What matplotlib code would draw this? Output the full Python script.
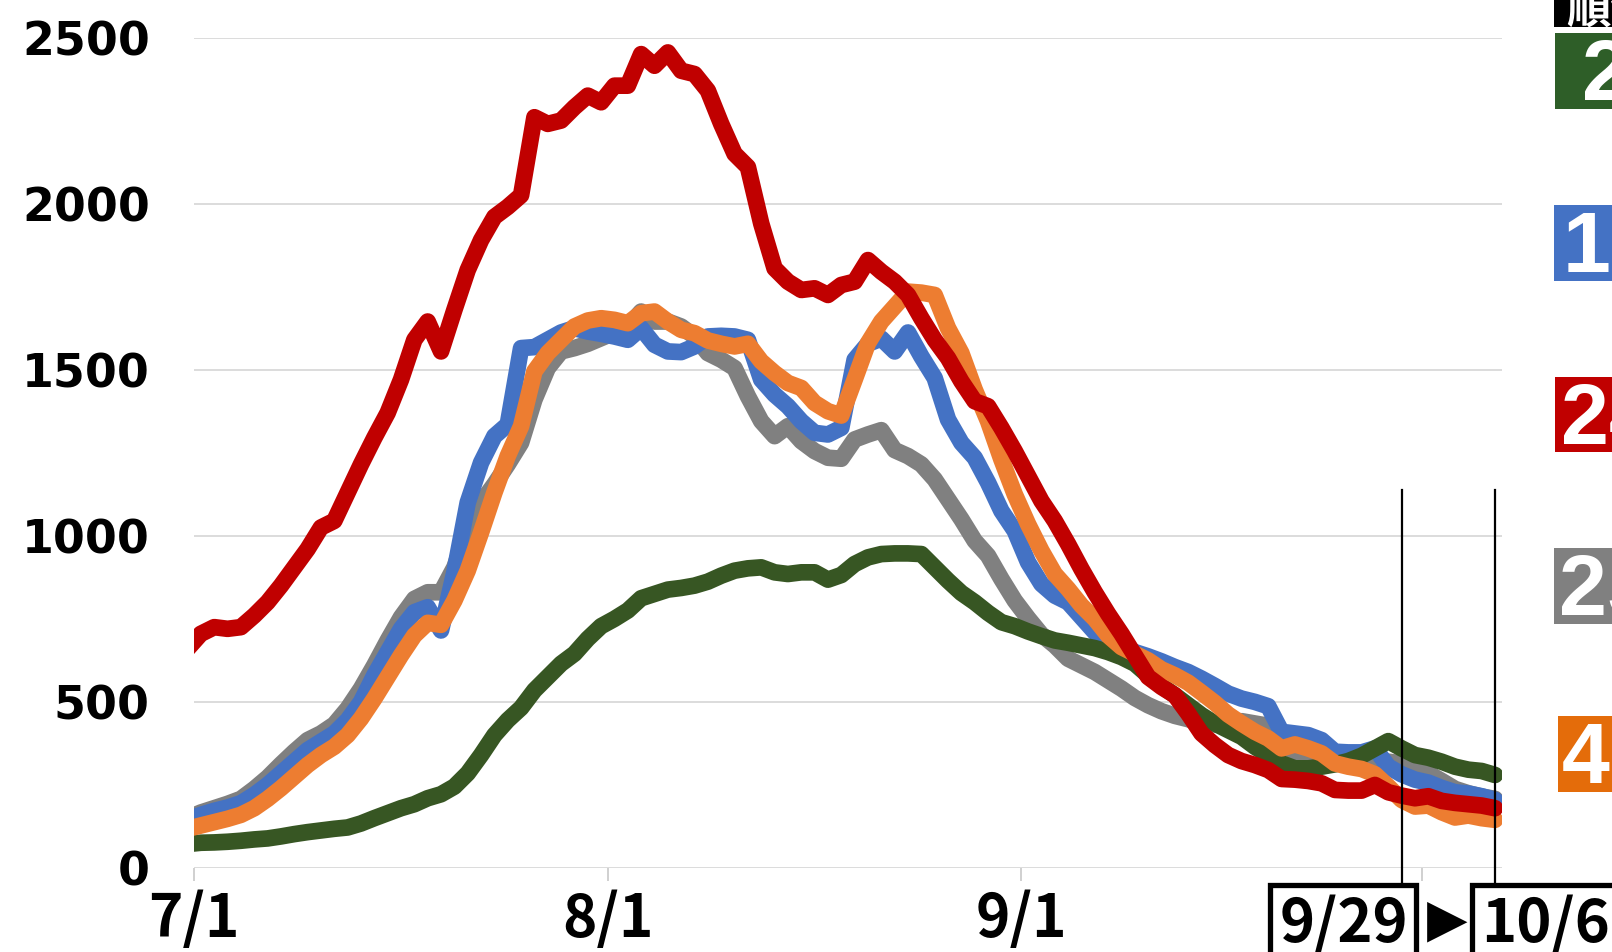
import numpy as np
import pandas as pd
import matplotlib
matplotlib.use("Agg")
import matplotlib.pyplot as plt
from matplotlib.patches import Rectangle

plt.rcParams['font.family'] = ['Noto Sans CJK JP', 'DejaVu Sans']

# daily values 6/30 .. 10/6 (6/30 is only the clipped start of each line)
dates = pd.date_range("2021-06-30", "2021-10-06")

red = [660, 705, 725, 720, 725, 760, 800, 850, 905, 960,
       1025, 1045, 1130, 1215, 1295, 1370, 1470, 1590, 1645, 1555,
       1680, 1800, 1890, 1960, 1990, 2025, 2260, 2240, 2250, 2290,
       2325, 2305, 2355, 2355, 2450, 2415, 2455, 2400, 2390, 2340,
       2240, 2150, 2110, 1940, 1805, 1765, 1740, 1745, 1725, 1755,
       1765, 1830, 1795, 1765, 1725, 1655, 1590, 1535, 1465, 1405,
       1390, 1325, 1255, 1180, 1105, 1045, 975, 900, 830, 765,
       705, 640, 575, 545, 520, 465, 405, 370, 340, 322,
       310, 295, 268, 266, 262, 255, 235, 233, 233, 250,
       228, 218, 210, 216, 202, 196, 192, 188, 180]

blue = [145, 160, 172, 182, 195, 220, 250, 285, 320, 355,
        380, 405, 445, 500, 580, 650, 720, 770, 785, 715,
        890, 1100, 1220, 1300, 1335, 1565, 1568, 1590, 1612, 1625,
        1615, 1608, 1600, 1590, 1625, 1575, 1555, 1553, 1570, 1600,
        1602, 1600, 1590, 1470, 1425, 1390, 1345, 1310, 1305, 1325,
        1530, 1578, 1594, 1555, 1612, 1540, 1475, 1350, 1280, 1235,
        1160, 1075, 1015, 920, 855, 820, 800, 755, 710, 675,
        662, 650, 637, 622, 605, 590, 570, 548, 525, 510,
        500, 487, 410, 405, 400, 385, 350, 348, 348, 360,
        305, 282, 266, 257, 241, 228, 224, 216, 205]

orange = [118, 128, 138, 148, 160, 180, 208, 240, 275, 310,
          340, 365, 400, 450, 510, 575, 640, 700, 738, 732,
          805, 895, 1010, 1130, 1240, 1330, 1495, 1550, 1590, 1630,
          1648, 1655, 1650, 1640, 1670, 1675, 1645, 1620, 1610, 1588,
          1578, 1570, 1578, 1525, 1490, 1460, 1445, 1400, 1375, 1362,
          1470, 1580, 1645, 1690, 1735, 1732, 1725, 1625, 1550, 1440,
          1345, 1230, 1125, 1035, 955, 885, 840, 790, 750, 700,
          665, 645, 625, 598, 580, 558, 528, 497, 462, 435,
          410, 390, 360, 372, 360, 345, 315, 305, 298, 282,
          245, 205, 185, 188, 168, 152, 158, 150, 145]

gray = [150, 167, 180, 193, 208, 238, 272, 312, 350, 385,
        405, 432, 480, 540, 610, 685, 755, 810, 830, 830,
        905, 1020, 1100, 1155, 1215, 1280, 1410, 1505, 1555, 1565,
        1578, 1595, 1612, 1630, 1675, 1645, 1645, 1630, 1600, 1550,
        1530, 1505, 1420, 1345, 1300, 1330, 1285, 1255, 1235, 1232,
        1290, 1305, 1318, 1258, 1240, 1215, 1170, 1110, 1050, 985,
        940, 870, 805, 752, 703, 670, 630, 610, 590, 565,
        540, 512, 490, 472, 458, 448, 435, 432, 436, 442,
        435, 428, 370, 350, 340, 330, 320, 315, 310, 315,
        320, 315, 300, 285, 262, 238, 225, 215, 208]

green = [72, 76, 77, 79, 82, 86, 89, 95, 102, 108,
         113, 118, 122, 134, 150, 165, 180, 192, 210, 222,
         245, 285, 340, 400, 445, 482, 535, 575, 615, 645,
         690, 728, 750, 775, 812, 825, 838, 843, 850, 862,
         880, 895, 902, 905, 890, 885, 890, 890, 868, 882,
         915, 935, 945, 947, 947, 945, 905, 865, 828, 800,
         768, 740, 728, 712, 698, 685, 678, 670, 662, 650,
         635, 615, 580, 548, 520, 490, 460, 435, 415, 395,
         365, 340, 315, 300, 300, 305, 312, 322, 338, 360,
         382, 360, 340, 332, 320, 305, 296, 292, 280]

tick_dates = ["2021-07-01", "2021-08-01", "2021-09-01", "2021-10-01"]
tick_labels = ["7/1", "8/1", "9/1", ""]
mark_dates = ["2021-09-29", "2021-10-06"]
mark_labels = ["9/29", "10/6"]

rank_labels = ["2", "19", "24", "25", "40"]
rank_colors = ["#2E5E28", "#4472C4", "#C00000", "#808080", "#E46C0A"]

W, H = 1612, 952
fig = plt.figure(figsize=(W / 100, H / 100), dpi=100)
fig.patch.set_facecolor("white")
ax = fig.add_axes([194.2 / W, 1 - 868 / H, (1501.7 - 194.2) / W, (868 - 37.5) / H])

start = pd.Timestamp("2021-07-01")
x = (dates - start).days + 0.5   # each day sits in the middle of its slot

kw = dict(lw=12, solid_capstyle="round", solid_joinstyle="round")
ax.plot(x, gray, color="#808080", zorder=2, **kw)
ax.plot(x, blue, color="#4472C4", zorder=3, **kw)
ax.plot(x, green, color="#375623", zorder=4, **kw)
ax.plot(x, orange, color="#ED7D31", zorder=5, **kw)
ax.plot(x, red, color="#C00000", zorder=6, **kw)

ax.set_xlim(0, 98)
ax.set_ylim(0, 2500)
ax.set_yticks(range(0, 2501, 500))
ax.yaxis.grid(True, color="#d9d9d9", lw=1.3)
ax.set_axisbelow(True)
for s in ax.spines.values():
    s.set_visible(False)

ax.tick_params(axis="y", length=0, pad=32)
for t in ax.get_yticklabels():
    t.set_fontsize(33)
    t.set_fontweight("bold")
    t.set_family("DejaVu Sans")

tick_pos = [(pd.Timestamp(d) - start).days for d in tick_dates]
ax.set_xticks(tick_pos)
ax.set_xticklabels(tick_labels, fontsize=42, fontweight="bold")
ax.tick_params(axis="x", length=9.5, width=1.2, color="#c8c8c8", pad=6)

# vertical markers for the comparison dates
for d in mark_dates:
    xp = (pd.Timestamp(d) - start).days + 0.5
    ax.plot([xp, xp], [0.455, -0.018], color="black", lw=1.6,
            transform=ax.get_xaxis_transform(), clip_on=False, zorder=10)


def fx(px):
    return px / W


def fy(py):
    return 1 - py / H


# date boxes at the bottom
fig.patches.append(Rectangle((fx(1270), fy(975)), (1416 - 1270) / W, (975 - 885) / H,
                             transform=fig.transFigure, fc="white", ec="black", lw=3.8, zorder=20))
fig.patches.append(Rectangle((fx(1472), fy(975)), (1650 - 1472) / W, (975 - 885) / H,
                             transform=fig.transFigure, fc="white", ec="black", lw=3.8, zorder=20))
fig.text(fx(1344), fy(942), mark_labels[0], ha="center", va="baseline",
         fontsize=43, fontweight="bold", zorder=21)
fig.text(fx(1481), fy(942), mark_labels[1], ha="left", va="baseline",
         fontsize=43, fontweight="bold", zorder=21)
fig.text(fx(1447), fy(920), "▶", ha="center", va="center", fontsize=38,
         family="DejaVu Sans", zorder=21)

# rank boxes on the right, cut off by the figure edge
fig.patches.append(Rectangle((fx(1554), fy(26.7)), 0.1, 40 / H,
                             transform=fig.transFigure, fc="black", ec="none"))
fig.text(fx(1566), fy(24), "順位", ha="left", va="baseline", color="white",
         fontsize=32, fontweight="bold")

box_tops = [33.3, 205, 376.7, 548, 716]
box_left = [1555, 1554, 1555, 1554, 1558]
txt_left = [1582, 1563, 1561, 1559, 1562]
for i, (lab, col) in enumerate(zip(rank_labels, rank_colors)):
    top = box_tops[i]
    fig.patches.append(Rectangle((fx(box_left[i]), fy(top + 75.5)), 0.1, 75.5 / H,
                                 transform=fig.transFigure, fc=col, ec="none"))
    fig.text(fx(txt_left[i]), fy(top + 67), lab, ha="left", va="baseline",
             color="white", fontsize=62, fontweight="bold",
             family=["Liberation Sans Narrow", "Liberation Sans"])

fig.savefig("out.png", dpi=100, facecolor="white")
